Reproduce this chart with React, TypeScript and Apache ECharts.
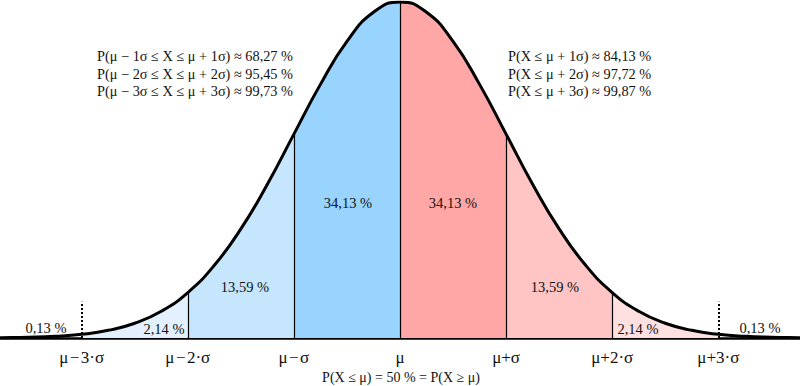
import React, { useEffect, useRef } from "react";
import * as echarts from "echarts";

// x in units of σ from μ
const xs = [-4, -3.75, -3.5, -3.25, -3, -2.75, -2.5, -2.25, -2, -1.75, -1.5, -1.25, -1, -0.75, -0.5, -0.25, 0,
  0.25, 0.5, 0.75, 1, 1.25, 1.5, 1.75, 2, 2.25, 2.5, 2.75, 3, 3.25, 3.5, 3.75, 4];
// density of the standard normal curve
const density = [0.0001, 0.0004, 0.0009, 0.0020, 0.0044, 0.0091, 0.0175, 0.0317, 0.0540, 0.0863, 0.1295, 0.1826, 0.2420, 0.3011, 0.3521, 0.3867, 0.3989,
  0.3867, 0.3521, 0.3011, 0.2420, 0.1826, 0.1295, 0.0863, 0.0540, 0.0317, 0.0175, 0.0091, 0.0044, 0.0020, 0.0009, 0.0004, 0.0001];

const tickValues = [-3, -2, -1, 0, 1, 2, 3];
const tickLabels = ["μ\u200a−\u200a3·σ", "μ\u200a−\u200a2·σ", "μ\u200a−\u200aσ", "μ", "μ+σ", "μ+2·σ", "μ+3·σ"];

// regions between boundaries (in σ) with their colour and share
const regionFrom = [-3, -2, -1, 0, 1, 2];
const regionTo = [-2, -1, 0, 1, 2, 3];
const regionColors = ["#E2F1FD", "#C5E6FC", "#99D4FF", "#FFA6A6", "#FFC4C4", "#FFE0E0"];
const regionShares = ["2,14 %", "13,59 %", "34,13 %", "34,13 %", "13,59 %", "2,14 %"];
const tailShares = ["0,13 %", "0,13 %"];

const leftNotes = [
  "P(μ − 1σ ≤ X ≤ μ + 1σ) ≈ 68,27 %",
  "P(μ − 2σ ≤ X ≤ μ + 2σ) ≈ 95,45 %",
  "P(μ − 3σ ≤ X ≤ μ + 3σ) ≈ 99,73 %",
];
const rightNotes = [
  "P(X ≤ μ + 1σ) ≈ 84,13 %",
  "P(X ≤ μ + 2σ) ≈ 97,72 %",
  "P(X ≤ μ + 3σ) ≈ 99,87 %",
];
const bottomNote = "P(X ≤ μ) = 50 % = P(X ≥ μ)";

const dottedHeight = 0.043;

const FONT = "'Liberation Serif', 'DejaVu Serif', serif";

export default function App() {
  const ref = useRef<HTMLDivElement>(null);
  useEffect(() => {
    if (!ref.current) return;
    const chart = echarts.init(ref.current, null, { renderer: "svg" });
    const pts = xs.map((x, i) => [x, density[i]]);
    const dAt = (x: number) => density[xs.indexOf(x)];

    const areaSeries = regionFrom.map((a, k) => {
      const b = regionTo[k];
      return {
        type: "line",
        data: pts.filter((p) => p[0] >= a && p[0] <= b),
        smooth: true,
        symbol: "none",
        lineStyle: { width: 0 },
        areaStyle: { color: regionColors[k], opacity: 1 },
        silent: true,
        z: 1,
      };
    });

    const lines: any[] = [];
    [-2, -1, 1, 2].forEach((x) =>
      lines.push([{ coord: [x, 0] }, { coord: [x, dAt(x)] }])
    );
    lines.push([{ coord: [0, 0] }, { coord: [0, dAt(0)] }]);
    const dotted: any[] = [-3, 3].map((x) => [
      { coord: [x, 0], lineStyle: { type: [2, 2], width: 2, color: "#000" } },
      { coord: [x, dottedHeight] },
    ]);

    const textStyle = (s: string, x: number, y: number, align = "center", size = 14) => ({
      type: "text",
      x,
      y,
      style: {
        text: s,
        fill: "#111",
        font: `${size}px ${FONT}`,
        align,
        verticalAlign: "middle",
      },
      silent: true,
      z: 20,
    });

    const shareX = [164, 245, 348, 453, 555, 638];
    const shareY = [329, 287, 203, 203, 287, 329];
    const graphics: any[] = [];
    regionShares.forEach((s, k) => graphics.push(textStyle(s, shareX[k], shareY[k], "center", 14.5)));
    graphics.push(textStyle(tailShares[0], 46, 328, "center", 14.5));
    graphics.push(textStyle(tailShares[1], 760, 328, "center", 14.5));
    leftNotes.forEach((s, k) => graphics.push(textStyle(s, 293, 56 + k * 17.5, "right", 14.3)));
    rightNotes.forEach((s, k) => graphics.push(textStyle(s, 508, 56 + k * 17.5, "left", 14.3)));
    graphics.push(textStyle(bottomNote, 401, 377));

    chart.setOption({
      animation: false,
      backgroundColor: "#fff",
      grid: { left: 0, right: 0, top: 2, bottom: 48 },
      xAxis: {
        type: "value",
        min: -3.77,
        max: 3.77,
        axisLine: { show: true, lineStyle: { color: "#000", width: 2.5 } },
        axisTick: { show: false },
        splitLine: { show: false },
        axisLabel: {
          customValues: tickValues,
          formatter: (v: number) => tickLabels[tickValues.indexOf(v)] ?? "",
          fontFamily: FONT,
          fontSize: 17,
          color: "#111",
          margin: 11,
        },
      },
      yAxis: { type: "value", min: 0, max: 0.3989, show: false },
      series: [
        ...areaSeries,
        {
          type: "line",
          data: pts,
          smooth: true,
          symbol: "none",
          lineStyle: { color: "#000", width: 3 },
          silent: true,
          z: 5,
          markLine: {
            silent: true,
            symbol: "none",
            label: { show: false },
            lineStyle: { color: "#000", width: 1.2, type: "solid" },
            data: [...lines, ...dotted],
          },
        },
      ],
      graphic: graphics,
    });
    return () => chart.dispose();
  }, []);
  return (
    <div
      ref={ref}
      style={{ position: "fixed", left: 0, top: 0, width: 800, height: 386 }}
    />
  );
}
